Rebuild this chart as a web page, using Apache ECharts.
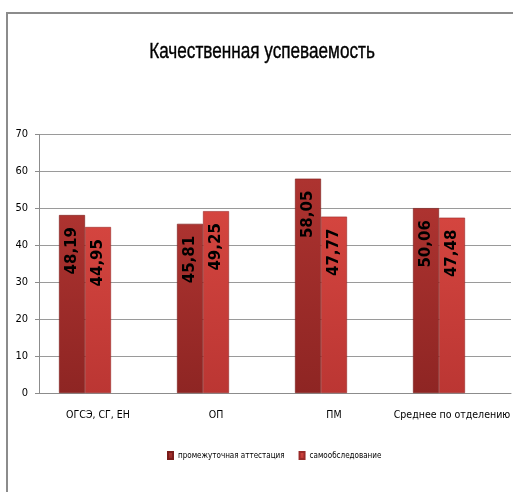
<!DOCTYPE html>
<html><head><meta charset="utf-8">
<script src="https://cdn.jsdelivr.net/npm/echarts@6/dist/echarts.min.js"></script>
<style>html,body{margin:0;padding:0;background:#fff}#c{width:513px;height:492px}</style>
</head><body><div id="c"></div>
<script>
const categories = ['ОГСЭ, СГ, ЕН', 'ОП', 'ПМ', 'Среднее по отделению'];
const seriesNames = ['промежуточная аттестация', 'самообследование'];
const interim = [48.19, 45.81, 58.05, 50.06];
const selfExam = [44.95, 49.25, 47.77, 47.48];
const yTicks = [0, 10, 20, 30, 40, 50, 60, 70];
const titleText = 'Качественная успеваемость';

const narrow = "'Liberation Sans Narrow', 'DejaVu Sans Condensed', 'Liberation Sans', sans-serif";
const chart = echarts.init(document.getElementById('c'));
function grad(a, b) {
  return new echarts.graphic.LinearGradient(0, 0, 0, 1, [
    {offset: 0, color: a}, {offset: 1, color: b}
  ]);
}
const labelCfg = {
  show: true, position: 'insideTop', rotate: 90, align: 'right', verticalAlign: 'middle',
  distance: 12, color: '#000', fontSize: 15, fontWeight: 'bold', fontFamily: "'DejaVu Sans', sans-serif",
  formatter: p => p.value.toFixed(2).replace('.', ',')
};
chart.setOption({
  animation: false,
  graphic: [
    {type: 'rect', shape: {x: 7, y: 13, width: 700, height: 700}, style: {fill: 'none', stroke: '#8c8c8c', lineWidth: 2}},
    {type: 'text', x: 262, y: 52, scaleX: 0.78, style: {text: titleText, textAlign: 'center', textVerticalAlign: 'middle',
      font: "22px 'Liberation Sans', sans-serif", fill: '#000', stroke: '#000', lineWidth: 0.4}}
  ],
  legend: {data: seriesNames, top: 446, left: 162, itemWidth: 5, itemHeight: 7, itemGap: 14,
    textStyle: {fontFamily: narrow, fontSize: 8, color: '#000'}, icon: 'rect'},
  grid: [
    {left: 39, right: 2, top: 134.5, bottom: 99, outerBoundsMode: 'none'},
    {left: 26, right: 15, top: 134.5, bottom: 99, outerBoundsMode: 'none'}
  ],
  xAxis: [
    {type: 'category', data: categories, gridIndex: 0,
      axisLine: {lineStyle: {color: '#8c8c8c'}}, axisTick: {length: 5, lineStyle: {color: '#8c8c8c'}},
      axisLabel: {color: '#000', fontFamily: narrow, fontSize: 10.5, margin: 17, interval: 0}},
    {type: 'category', data: categories, gridIndex: 1, show: false}
  ],
  yAxis: [
    {type: 'value', gridIndex: 0, min: yTicks[0], max: yTicks[yTicks.length - 1], interval: 10,
      axisLine: {show: true, lineStyle: {color: '#8c8c8c'}}, axisTick: {show: true, length: 4, lineStyle: {color: '#8c8c8c'}},
      splitLine: {lineStyle: {color: '#9a9a9a'}},
      axisLabel: {color: '#000', fontFamily: narrow, fontSize: 11, margin: 11}},
    {type: 'value', gridIndex: 1, min: yTicks[0], max: yTicks[yTicks.length - 1], show: false}
  ],
  series: [
    {name: seriesNames[0], type: 'bar', xAxisIndex: 1, yAxisIndex: 1, data: interim, barWidth: 26, barGap: '0%',
      itemStyle: {color: grad('#ad3330', '#8e2523'), borderColor: '#7a1c1a', borderWidth: 0.6}, label: labelCfg},
    {name: seriesNames[1], type: 'bar', xAxisIndex: 1, yAxisIndex: 1, data: selfExam, barWidth: 26, barGap: '0%',
      itemStyle: {color: grad('#d4453f', '#bb3633'), borderColor: '#9a2a28', borderWidth: 0.6}, label: labelCfg}
  ]
});
</script></body></html>
